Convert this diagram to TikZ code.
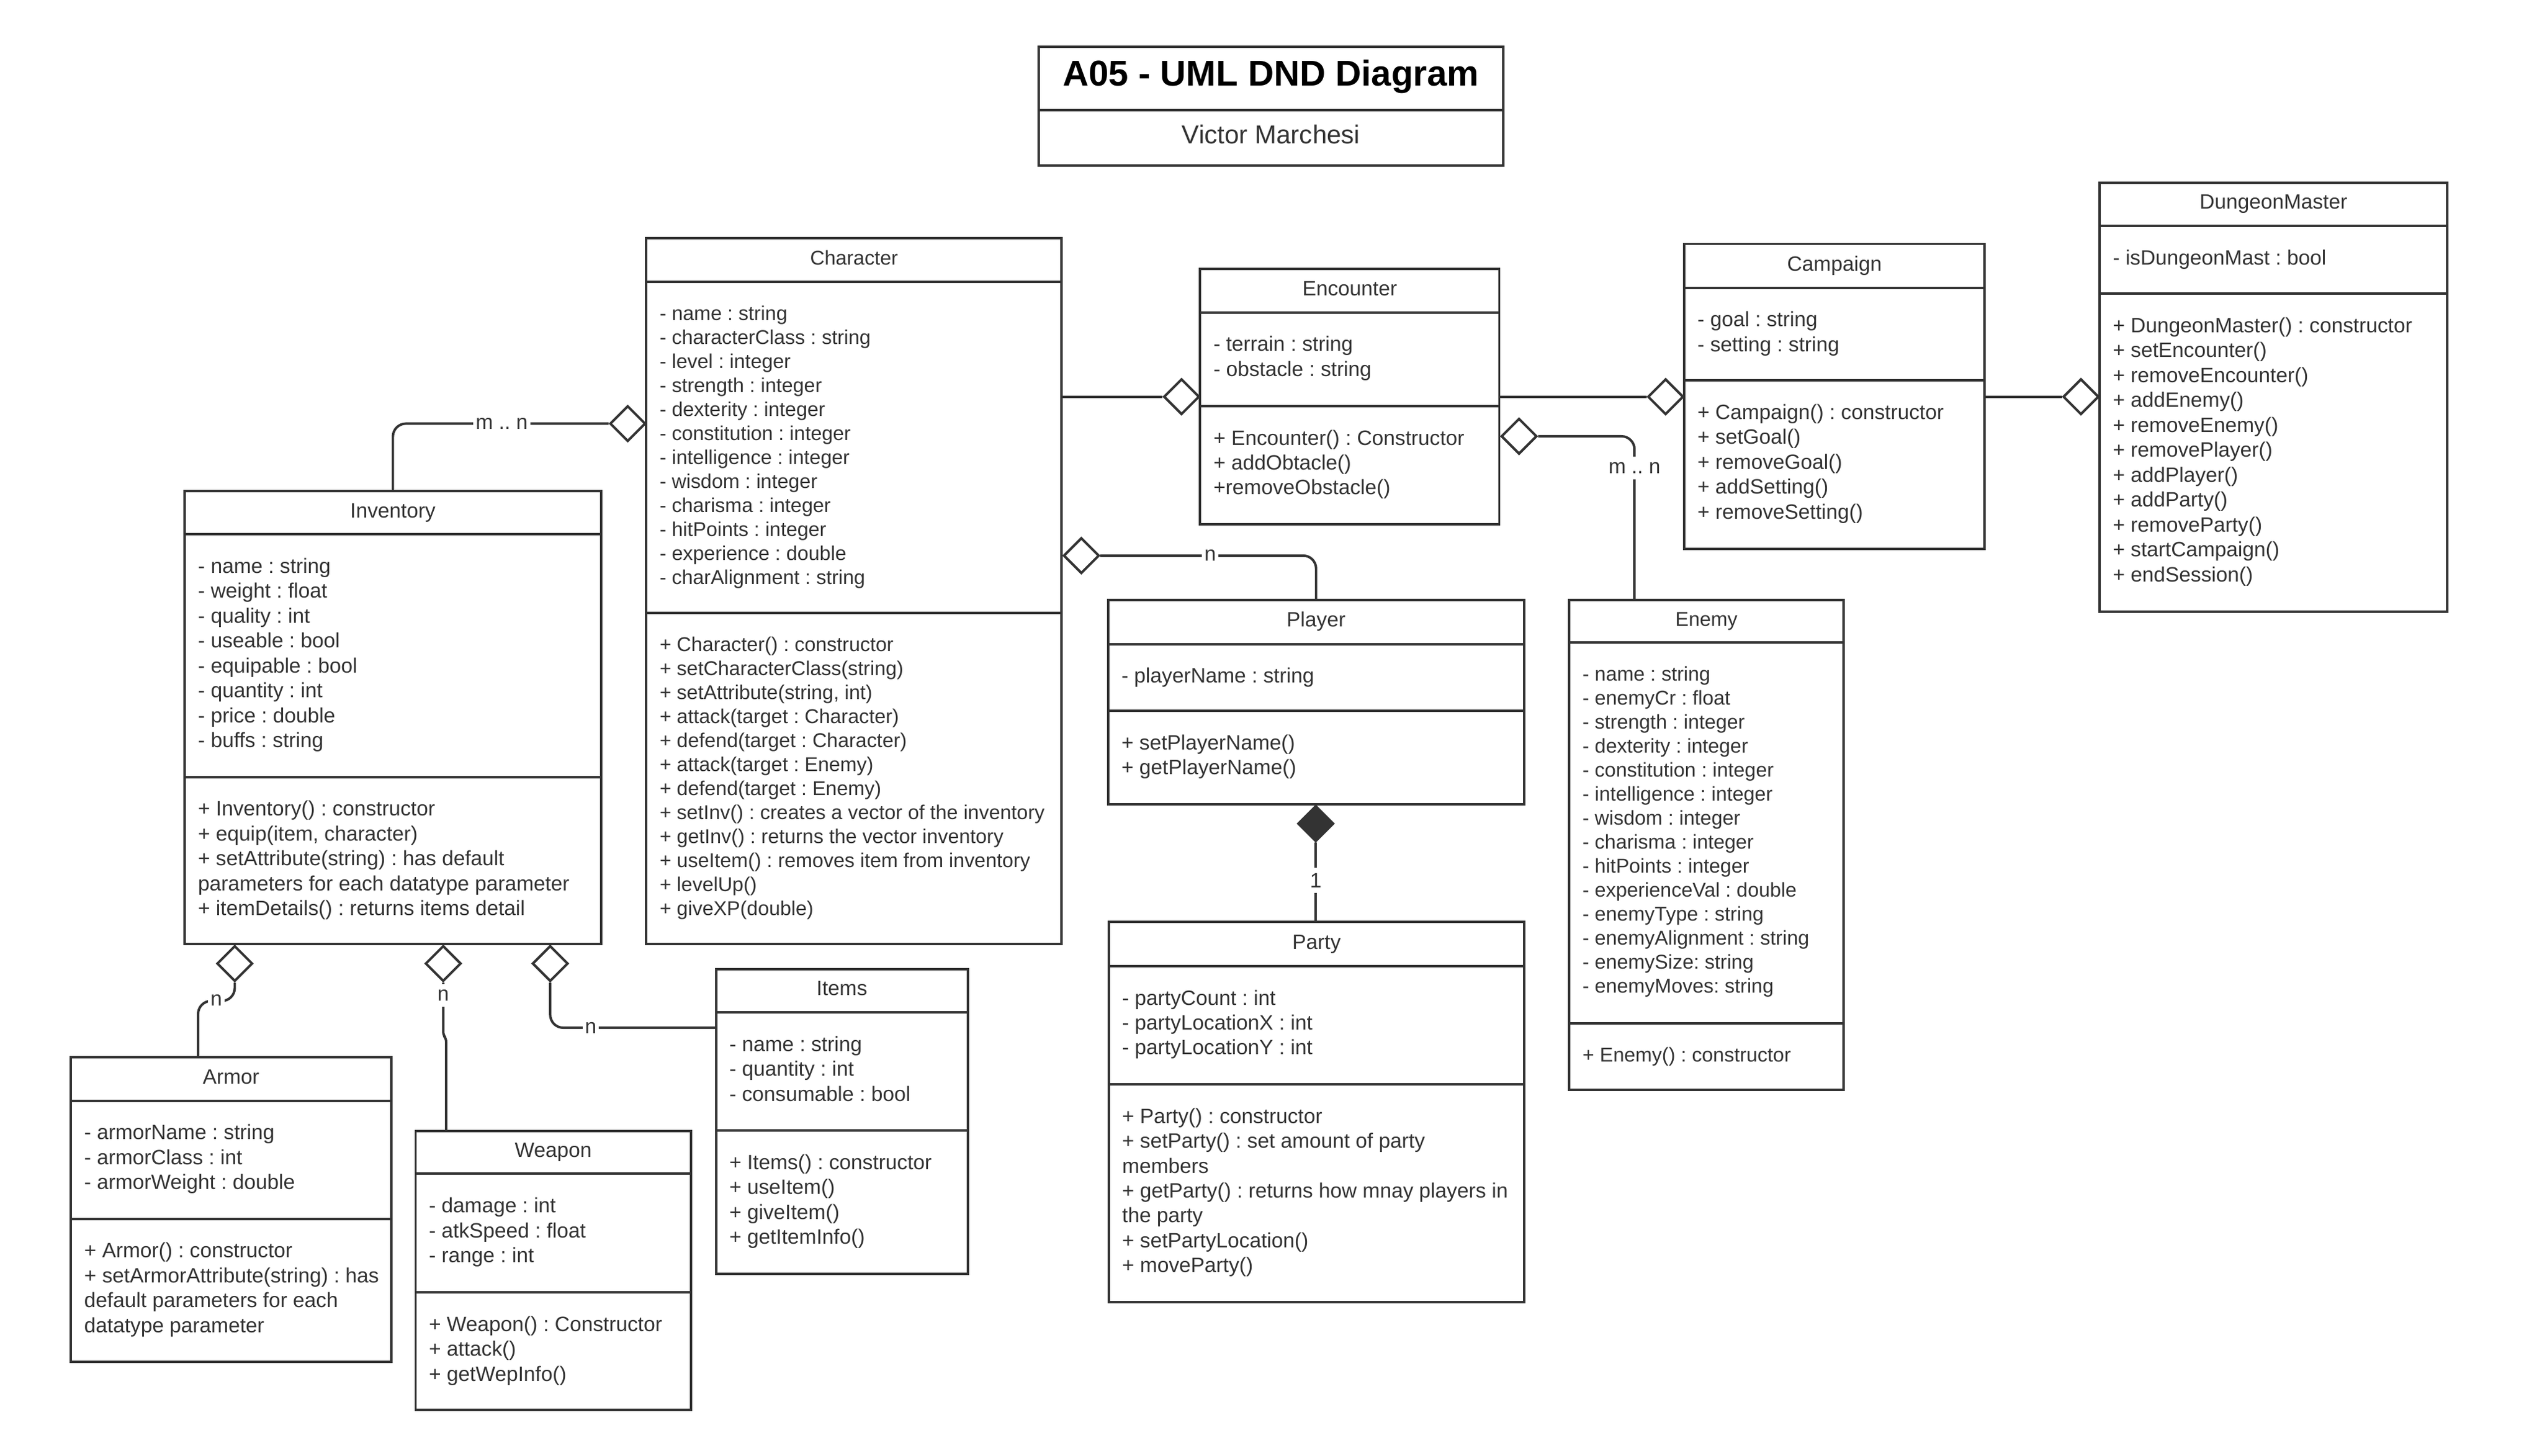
\documentclass[tikz,border=0pt]{standalone}
\usepackage{fontspec}
\setmainfont{Liberation Sans}
\usetikzlibrary{shapes.geometric}
\frenchspacing
\definecolor{lc}{HTML}{333333}
\tikzset{
  umlline/.style={draw=lc, line width=1.5pt},
  classbox/.style={rectangle, draw=lc, line width=1.5pt, fill=white, inner sep=0pt, outer sep=0pt},
  fA/.style={font=\fontsize{12.8pt}{15.36pt}\selectfont\frenchspacing, text=lc},
  fB/.style={font=\fontsize{12.33pt}{14.8pt}\selectfont\frenchspacing, text=lc},
  members/.style={anchor=north west, align=left, inner sep=0pt},
  conn/.style={draw=lc, line width=1.5pt, rounded corners=8pt},
  odia/.style={diamond, draw=lc, line width=1.5pt, fill=white, minimum width=22pt, minimum height=22pt, inner sep=0pt, line join=miter},
  fdia/.style={odia, fill=lc},
  mult/.style={fA, fill=white, inner xsep=1.5pt, inner ysep=3.5pt}
}
% #1 name, #2 x1, #3 y1, #4 x2, #5 y2, #6 header line, #7 divider, #8 title, #9 font style
\newcommand{\umlclass}[9]{%
  \node[classbox, anchor=north west, minimum width={#4pt-#2pt}, minimum height={#5pt-#3pt}] (#1) at (#2,#3) {};
  \draw[umlline] (#2,#6) -- (#4,#6);
  \draw[umlline] (#2,#7) -- (#4,#7);
  \node[#9, anchor=base, inner sep=0pt] (#1-name) at ({(#2+#4)/2},{(#3+#6)/2+3}) {#8};
}
\begin{document}
\begin{tikzpicture}[x=1pt, y=-1pt]
\fill[white] (0,0) rectangle (1568,898.05);
\useasboundingbox (0,0) rectangle (1568,898.05);

% title block
\node[classbox, anchor=north west, minimum width={286.6pt}, minimum height={73.3pt}] (ttl) at (640.7,28.7) {};
\draw[umlline] (640.7,67.8) -- (927.3,67.8);
\node[anchor=base, inner sep=0pt, font=\fontsize{22.1pt}{26pt}\selectfont\bfseries, text=black] (ttl-main) at (784,52.8) {A05 - UML DND Diagram};
\node[anchor=base, inner sep=0pt, font=\fontsize{16pt}{19pt}\selectfont, text=lc] (ttl-author) at (784,88.7) {Victor Marchesi};

% classes
\umlclass{char}{398.7}{146.8}{654.9}{582.3}{173.9}{378.1}{Character}{fB}
\node[fB, members] (char-attrs) at (406.7,186.9) {\strut- name : string\\- characterClass : string\\- level : integer\\- strength : integer\\- dexterity : integer\\- constitution : integer\\- intelligence : integer\\- wisdom : integer\\- charisma : integer\\- hitPoints : integer\\- experience : double\\- charAlignment : string};
\node[fB, members] (char-ops) at (406.7,391.1) {\strut+ Character() : constructor\\+ setCharacterClass(string)\\+ setAttribute(string, int)\\+ attack(target : Character)\\+ defend(target : Character)\\+ attack(target : Enemy)\\+ defend(target : Enemy)\\+ setInv() : creates a vector of the inventory\\+ getInv() : returns the vector inventory\\+ useItem() : removes item from inventory\\+ levelUp()\\+ giveXP(double)};

\umlclass{inv}{114}{303}{370.7}{582.2}{329.6}{479.3}{Inventory}{fA}
\node[fA, members] (inv-attrs) at (122,342.6) {\strut- name : string\\- weight : float\\- quality : int\\- useable : bool\\- equipable : bool\\- quantity : int\\- price : double\\- buffs : string};
\node[fA, members] (inv-ops) at (122,492.3) {\strut+ Inventory() : constructor\\+ equip(item, character)\\+ setAttribute(string) : has default\\parameters for each datatype parameter\\+ itemDetails() : returns items detail};

\umlclass{enc}{740.3}{166}{924.8}{323.4}{192.7}{250.5}{Encounter}{fA}
\node[fA, members] (enc-attrs) at (748.3,205.7) {\strut- terrain : string\\- obstacle : string};
\node[fA, members] (enc-ops) at (748.3,263.5) {\strut+ Encounter() : Constructor\\+ addObtacle()\\+removeObstacle()};

\umlclass{camp}{1038.9}{150.5}{1224.2}{338.7}{177.6}{234.7}{Campaign}{fA}
\node[fA, members] (camp-attrs) at (1046.9,190.6) {\strut- goal : string\\- setting : string};
\node[fA, members] (camp-ops) at (1046.9,247.7) {\strut+ Campaign() : constructor\\+ setGoal()\\+ removeGoal()\\+ addSetting()\\+ removeSetting()};

\umlclass{dm}{1295.1}{112.6}{1509.6}{377.2}{139.3}{181.2}{DungeonMaster}{fA}
\node[fA, members] (dm-attrs) at (1303.1,152.3) {\strut- isDungeonMast : bool};
\node[fA, members] (dm-ops) at (1303.1,194.2) {\strut+ DungeonMaster() : constructor\\+ setEncounter()\\+ removeEncounter()\\+ addEnemy()\\+ removeEnemy()\\+ removePlayer()\\+ addPlayer()\\+ addParty()\\+ removeParty()\\+ startCampaign()\\+ endSession()};

\umlclass{player}{683.6}{370.1}{940}{496}{397.3}{438.5}{Player}{fA}
\node[fA, members] (player-attrs) at (691.6,410.3) {\strut- playerName : string};
\node[fA, members] (player-ops) at (691.6,451.5) {\strut+ setPlayerName()\\+ getPlayerName()};

\umlclass{enemy}{968}{370}{1137.2}{672.2}{396.3}{631.2}{Enemy}{fB}
\node[fB, members] (enemy-attrs) at (976,409.3) {\strut- name : string\\- enemyCr : float\\- strength : integer\\- dexterity : integer\\- constitution : integer\\- intelligence : integer\\- wisdom : integer\\- charisma : integer\\- hitPoints : integer\\- experienceVal : double\\- enemyType : string\\- enemyAlignment : string\\- enemySize: string\\- enemyMoves: string};
\node[fB, members] (enemy-ops) at (976,644.2) {\strut+ Enemy() : constructor};

\umlclass{party}{684}{568.7}{940.2}{803.3}{595.9}{668.8}{Party}{fA}
\node[fA, members] (party-attrs) at (692,608.9) {\strut- partyCount : int\\- partyLocationX : int\\- partyLocationY : int};
\node[fA, members] (party-ops) at (692,681.8) {\strut+ Party() : constructor\\+ setParty() : set amount of party\\members\\+ getParty() : returns how mnay players in\\the party\\+ setPartyLocation()\\+ moveParty()};

\umlclass{items}{441.7}{597.8}{596.9}{785.6}{624.4}{697.3}{Items}{fA}
\node[fA, members] (items-attrs) at (449.7,637.4) {\strut- name : string\\- quantity : int\\- consumable : bool};
\node[fA, members] (items-ops) at (449.7,710.3) {\strut+ Items() : constructor\\+ useItem()\\+ giveItem()\\+ getItemInfo()};

\umlclass{armor}{43.8}{652}{241.3}{840}{679}{751.8}{Armor}{fA}
\node[fA, members] (armor-attrs) at (51.8,692) {\strut- armorName : string\\- armorClass : int\\- armorWeight : double};
\node[fA, members] (armor-ops) at (51.8,764.8) {\strut+ Armor() : constructor\\+ setArmorAttribute(string) : has\\default parameters for each\\datatype parameter};

\umlclass{weapon}{256.4}{697.5}{426.1}{869.6}{724}{797.2}{Weapon}{fA}
\node[fA, members] (weapon-attrs) at (264.4,737) {\strut- damage : int\\- atkSpeed : float\\- range : int};
\node[fA, members] (weapon-ops) at (264.4,810.2) {\strut+ Weapon() : Constructor\\+ attack()\\+ getWepInfo()};

% connector end points
\coordinate (enemyT) at (1008.2,370);
\coordinate (armorT) at (122.2,652);
\coordinate (weaponT) at (275.2,697.5);
\coordinate (itemsL) at (441.7,633.9);

% diamonds
\node[odia] (d1) at (387.2,261.3) {};
\node[odia] (d2) at (728.8,244.7) {};
\node[odia] (d3) at (1027.4,244.7) {};
\node[odia] (d4) at (1283.6,244.7) {};
\node[odia] (d5) at (937,269.1) {};
\node[odia] (d6) at (667,342.7) {};
\node[fdia] (d7) at (811.6,508) {};
\node[odia] (d8) at (144.8,594.3) {};
\node[odia] (d9) at (273.4,594.3) {};
\node[odia] (d10) at (339.4,594.3) {};

% connectors
\draw[conn] (d1.west) -| (inv.north);
\draw[conn] (d2.west -| char.east) -- (d2.west);
\draw[conn] (d3.west -| enc.east) -- (d3.west);
\draw[conn] (d4.west -| camp.east) -- (d4.west);
\draw[conn] (d5.east) -| (enemyT);
\draw[conn] (d6.east) -| (player.north);
\draw[conn] (d7.south) -- (d7.south |- party.north);
\draw[conn] (d8.south) -- (144.8,617.4) -- (122.2,617.4) -- (armorT);
\draw[conn, rounded corners=2pt] (d9.south) -- (273.4,638.5) -- (275.2,640.5) -- (weaponT);
\draw[conn] (d10.south) |- (itemsL);

% multiplicities
\node[mult] (m1) at (309.5,261.3) {m .. n};
\node[mult] (m5) at (1008.2,288.7) {m .. n};
\node[mult] (m6) at (746.5,342.7) {n};
\node[mult] (m7) at (811.6,543) {1};
\node[mult] (m8) at (133.4,616.8) {n};
\node[mult] (m9) at (273.4,613.9) {n};
\node[mult] (m10) at (364.4,633.9) {n};
\end{tikzpicture}
\end{document}
